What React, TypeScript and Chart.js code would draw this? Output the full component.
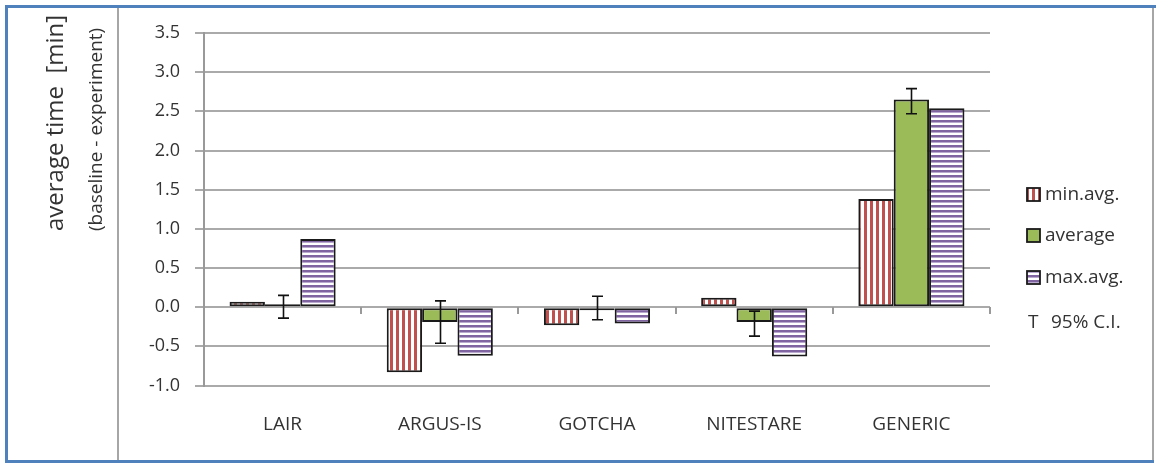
import React, { useEffect, useRef } from 'react';
import { Chart, registerables } from 'chart.js';

Chart.register(...registerables);

const categories = ['LAIR', 'ARGUS-IS', 'GOTCHA', 'NITESTARE', 'GENERIC'];
const seriesNames = ['min.avg.', 'average', 'max.avg.'];
const minAvg = [0.07, -0.83, -0.23, 0.12, 1.38];
const average = [0.02, -0.19, -0.01, -0.19, 2.65];
const maxAvg = [0.87, -0.62, -0.21, -0.63, 2.54];
const ciLow = [-0.14, -0.46, -0.16, -0.37, 2.47];
const ciHigh = [0.15, 0.08, 0.14, -0.05, 2.79];
const ciLegendMark = 'T';
const ciLegendText = '95% C.I.';
const yTitle = 'average time  [min]';
const ySubTitle = '(baseline - experiment)';
const yMin = -1;
const yMax = 3.5;
const yStep = 0.5;

const FONT = '"Open Sans", sans-serif';
const TEXT = '#333333';
const RED = '#c0504d';
const GREEN = '#9bbb59';
const PURPLE = '#8064a2';
const EDGE = '#1a1a1a';

function makeTile(w: number, h: number, draw: (c: CanvasRenderingContext2D) => void) {
  const t = document.createElement('canvas');
  t.width = w;
  t.height = h;
  const c = t.getContext('2d')!;
  c.fillStyle = '#ffffff';
  c.fillRect(0, 0, w, h);
  draw(c);
  return t;
}

export default function App() {
  const ref = useRef<HTMLCanvasElement | null>(null);

  useEffect(() => {
    document.body.style.margin = '0';
    const canvas = ref.current!;
    const ctx = canvas.getContext('2d')!;

    const redTile = makeTile(6, 6, (c) => {
      c.fillStyle = RED;
      c.fillRect(0, 0, 3, 6);
    });
    const purpleTile = makeTile(5, 5, (c) => {
      c.fillStyle = PURPLE;
      c.fillRect(0, 0, 5, 2);
      c.fillStyle = '#b9a9cf';
      c.fillRect(0, 2, 5, 1);
    });
    const redPattern = ctx.createPattern(redTile, 'repeat')!;
    const purplePattern = ctx.createPattern(purpleTile, 'repeat')!;
    const fills: (string | CanvasPattern)[] = [redPattern, GREEN, purplePattern];

    const decor = {
      id: 'decor',
      beforeDraw(chart: any) {
        const c = chart.ctx;
        c.save();
        c.strokeStyle = '#a6a6a6';
        c.lineWidth = 2;
        c.beginPath();
        c.moveTo(1153, 8);
        c.lineTo(1153, 460);
        c.moveTo(118, 8);
        c.lineTo(118, 460);
        c.stroke();
        c.strokeStyle = '#4f81bd';
        c.lineWidth = 3;
        c.beginPath();
        c.moveTo(1156, 6.5);
        c.lineTo(6.5, 6.5);
        c.lineTo(6.5, 461.5);
        c.lineTo(1154, 461.5);
        c.stroke();
        c.restore();
      },
      afterDatasetsDraw(chart: any) {
        const c = chart.ctx;
        const xs = chart.scales.x;
        const ys = chart.scales.y;
        c.save();
        // category tick marks on the zero line
        const y0 = Math.round(ys.getPixelForValue(0));
        const n = categories.length;
        c.strokeStyle = '#999999';
        c.lineWidth = 2;
        c.beginPath();
        for (let i = 0; i <= n; i++) {
          const x = Math.round(xs.left + (i * xs.width) / n);
          c.moveTo(x, y0);
          c.lineTo(x, y0 + 7);
        }
        c.stroke();
        // error bars on the "average" series
        const meta = chart.getDatasetMeta(1);
        c.strokeStyle = '#111111';
        c.lineWidth = 1.6;
        c.beginPath();
        meta.data.forEach((el: any, i: number) => {
          const x = Math.round(el.x) + 0.5;
          const yh = ys.getPixelForValue(ciHigh[i]);
          const yl = ys.getPixelForValue(ciLow[i]);
          c.moveTo(x, yh);
          c.lineTo(x, yl);
          c.moveTo(x - 5.5, yh);
          c.lineTo(x + 5.5, yh);
          c.moveTo(x - 5.5, yl);
          c.lineTo(x + 5.5, yl);
        });
        c.stroke();
        c.restore();
      },
      afterDraw(chart: any) {
        const c = chart.ctx;
        c.save();
        // axis titles
        c.fillStyle = TEXT;
        c.textAlign = 'left';
        c.textBaseline = 'middle';
        c.translate(56, 231);
        c.rotate(-Math.PI / 2);
        c.font = `24px ${FONT}`;
        c.fillText(yTitle, 0, 0);
        c.font = `19px ${FONT}`;
        c.fillText(ySubTitle, 0, 41);
        c.restore();

        // legend
        c.save();
        const rows = [195, 236, 278];
        c.font = `19px ${FONT}`;
        c.textBaseline = 'middle';
        c.textAlign = 'left';
        rows.forEach((ry, i) => {
          c.fillStyle = fills[i];
          c.fillRect(1027, ry - 7, 13, 13);
          c.strokeStyle = EDGE;
          c.lineWidth = 1.8;
          c.strokeRect(1027, ry - 7, 13, 13);
          c.fillStyle = TEXT;
          c.fillText(seriesNames[i], 1045, ry);
        });
        c.fillStyle = TEXT;
        c.fillText(ciLegendMark, 1028, 323);
        c.fillText(ciLegendText, 1051, 323);
        c.restore();
      },
    };

    const chart = new Chart(canvas, {
      type: 'bar',
      data: {
        labels: categories,
        datasets: [
          { label: seriesNames[0], data: minAvg, backgroundColor: redPattern as any },
          { label: seriesNames[1], data: average, backgroundColor: GREEN },
          { label: seriesNames[2], data: maxAvg, backgroundColor: purplePattern as any },
        ].map((d) => ({
          ...d,
          borderColor: EDGE,
          borderWidth: 2,
          borderSkipped: false as any,
          minBarLength: 3,
          categoryPercentage: 0.675,
          barPercentage: 1,
        })),
      },
      options: {
        responsive: false,
        animation: false,
        events: [],
        layout: { padding: { left: 0, right: 166, top: 33, bottom: 0 } },
        plugins: {
          legend: { display: false },
          tooltip: { enabled: false },
          title: { display: false },
        },
        scales: {
          x: {
            grid: { display: false, drawTicks: false },
            border: { display: false },
            ticks: {
              color: TEXT,
              font: { family: FONT, size: 19 },
              padding: 28,
              maxRotation: 0,
            },
            afterFit(scale: any) {
              scale.height = 78.5;
            },
          },
          y: {
            min: yMin,
            max: yMax,
            grid: { color: '#aaaaaa', lineWidth: 2, tickLength: 9 },
            border: { color: '#999999', width: 2 },
            ticks: {
              stepSize: yStep,
              color: TEXT,
              font: { family: FONT, size: 18 },
              padding: 15,
              callback: (v: any) => Number(v).toFixed(1),
            },
            afterFit(scale: any) {
              scale.width = 204;
            },
          },
        },
      },
      plugins: [decor],
    });

    return () => chart.destroy();
  }, []);

  return <canvas ref={ref} width={1156} height={464} style={{ display: 'block' }} />;
}
